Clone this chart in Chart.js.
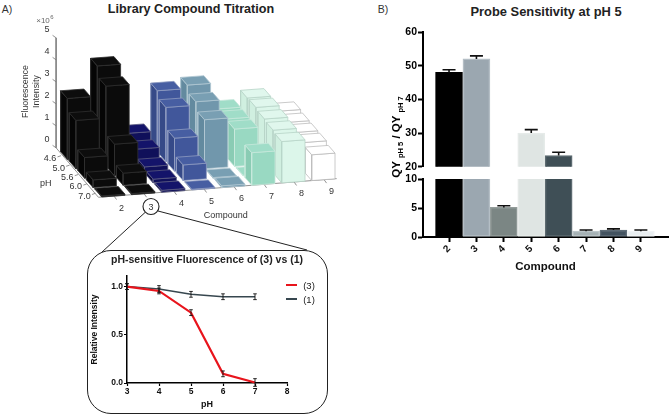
<!DOCTYPE html>
<html lang="en">
<head>
<meta charset="UTF-8" />
<title>Library Compound Titration</title>
<script src="https://cdn.jsdelivr.net/npm/chart.js@4"></script>
<style>
    * { margin: 0; padding: 0; font-family: "Liberation Sans", Arial, sans-serif; }
    body { width: 672px; height: 415px; background: #fff; position: relative; overflow: hidden; }
    canvas { position: absolute; }
    .txt { position: absolute; white-space: nowrap; transform: translate(-50%, -50%); color: #111; }
    .title { font-weight: bold; color: #222; }
    .panel { font-size: 10.5px; color: #333; }
    #box { position: absolute; left: 87px; top: 250px; width: 239px; height: 162px; border: 1.3px solid #222; border-radius: 24px; }
    #qy { font-weight: bold; font-size: 11.5px; transform: translate(-50%, -50%) rotate(-90deg); color: #000; line-height: 12px; }
    #qy sub { font-size: 7.5px; line-height: 0; }
    .legline { position: absolute; width: 11px; height: 2px; }
    svg { position: absolute; left: 0; top: 0; }
</style>
</head>
<body>
<div class="txt panel" style="left:7px;top:9px">A)</div>
<div class="txt panel" style="left:383px;top:9px">B)</div>
<div class="txt title" style="left:191px;top:9px;font-size:12.6px">Library Compound Titration</div>
<div class="txt title" style="left:546px;top:11px;font-size:12.9px">Probe Sensitivity at pH 5</div>

<canvas id="chartA" style="left:0;top:0"></canvas>

<canvas id="chartBTop" style="left:370px;top:22px"></canvas>
<canvas id="chartBBottom" style="left:370px;top:169px"></canvas>
<div class="txt" id="qy" style="left:396px;top:137px">QY <sub>pH 5</sub> / QY <sub>pH 7</sub></div>

<svg width="672" height="415">
    <circle cx="151" cy="206.5" r="8" fill="none" stroke="#222" stroke-width="1.1" />
    <line x1="145" y1="212.5" x2="102" y2="252" stroke="#222" stroke-width="1" />
    <line x1="158" y1="211" x2="307" y2="250" stroke="#222" stroke-width="1" />
</svg>
<div class="txt" style="left:151px;top:206.5px;font-size:9px;color:#333">3</div>

<div id="box"></div>
<div class="txt" style="left:207px;top:259px;font-weight:bold;font-size:10.5px;color:#222">pH-sensitive Fluorescence of (3) vs (1)</div>
<canvas id="chartC" style="left:90px;top:268px"></canvas>
<div class="legline" style="left:286px;top:284px;background:#e8141c"></div>
<div class="legline" style="left:286px;top:298px;background:#37474f"></div>
<div class="txt" style="left:309px;top:285px;font-size:9.5px;color:#222">(3)</div>
<div class="txt" style="left:309px;top:299px;font-size:9.5px;color:#222">(1)</div>

<script>
    // panel A
    const compounds = ["2", "3", "4", "5", "6", "7", "8", "9"];
    const phLevels = ["4.6", "5.0", "5.6", "6.0", "7.0"];
    const intensityTicks = [0, 1, 2, 3, 4, 5];
    const intensity2 = [2.77, 2.2, 0.94, 0.35, 0.05];
    const intensity3 = [4.14, 3.65, 1.44, 0.55, 0.05];
    const intensity4 = [0.97, 0.68, 0.3, 0.17, 0.09];
    const intensity5 = [2.8, 2.47, 1.5, 0.71, 0.03];
    const intensity6 = [2.95, 2.62, 2.23, 0.03, 0.08];
    const intensity7 = [1.76, 1.73, 1.7, 0.03, 1.48];
    const intensity8 = [2.15, 2.15, 2.05, 1.97, 1.88];
    const intensity9 = [1.44, 1.36, 1.33, 1.3, 1.17];
    const intensities = [intensity2, intensity3, intensity4, intensity5, intensity6, intensity7, intensity8, intensity9];

    // panel B
    const sensitivity = [48, 52, 5.1, 30, 23.3, 1.0, 1.2, 1.0];
    const sensitivityErr = [0.8, 0.9, 0.3, 1.0, 1.0, 0.2, 0.2, 0.2];

    // panel C
    const phValues = [3, 4, 5, 6, 7];
    const relative3 = [1.0, 0.955, 0.73, 0.095, 0.005];
    const relative3Err = [0.03, 0.03, 0.03, 0.03, 0.04];
    const relative1 = [1.0, 0.975, 0.92, 0.895, 0.895];
    const relative1Err = [0.03, 0.035, 0.03, 0.03, 0.03];

    const faceColors = [
        ["#0b0b0b", "#050505", "#0d0d0d", "#2e2e2e"],
        ["#0b0b0b", "#050505", "#0d0d0d", "#2e2e2e"],
        ["#10105a", "#0a0a40", "#14146a", "#5a5a80"],
        ["#41579b", "#364a88", "#475ea2", "#8f9cc0"],
        ["#7197ac", "#638a9f", "#799fb3", "#b0c6d2"],
        ["#99d9c2", "#8accb4", "#a0ddc8", "#c8e8dc"],
        ["#dcf6ea", "#d0efe0", "#e0f7ed", "#b8d4c8"],
        ["#ffffff", "#ffffff", "#ffffff", "#bdbdbd"]
    ];

    // oblique projection, bar width W, bar depth D, compound step and pH step in px
    const project = (c, p, v) => ({
        x: 95 + c * 30 + (p - 4) * 8.6,
        y: 189.3 - c * 2.35 + (p - 4) * 9.4 - v * 22
    });
    const shift = (pt, dx, dy) => ({ x: pt.x + dx, y: pt.y + dy });

    function face(points, fill, edge) {
        return {
            data: points.concat([points[0]]),
            showLine: true,
            pointRadius: 0,
            borderColor: edge,
            borderWidth: 0.8,
            backgroundColor: fill,
            fill: "shape",
            tension: 0
        };
    }

    function axisLine(points, color, width) {
        return { data: points, showLine: true, pointRadius: 0, borderColor: color, borderWidth: width, fill: false };
    }

    const Wx = 23.3, Wy = -1.7, Dx = 6.7, Dy = 7.7;
    const datasetsA = [];

    // axes first so the bars sit on top
    datasetsA.push(axisLine([project(-0.03, -0.42, 5), project(-0.03, -0.42, 0), project(-0.12, 4.82, 0), project(7.82, 4.82, 0)], "#777", 0.8));
    intensityTicks.forEach((t) => {
        const p = project(-0.03, -0.42, t);
        datasetsA.push(axisLine([p, shift(p, -3.5, -2.5)], "#777", 0.8));
    });
    phLevels.forEach((l, i) => {
        const p = project(-0.1, i + 0.4, 0);
        datasetsA.push(axisLine([p, shift(p, -3.5, 1.2)], "#777", 0.8));
    });
    compounds.forEach((l, i) => {
        const p = project(i + 0.4, 4.82, 0);
        datasetsA.push(axisLine([p, shift(p, 2.5, 3.5)], "#777", 0.8));
    });

    // far bars first: high compound to low, low pH to high
    for (let c = compounds.length - 1; c >= 0; c--) {
        const col = faceColors[c];
        for (let p = 0; p < phLevels.length; p++) {
            const v = intensities[c][p];
            const g = project(c, p, 0);
            const t = project(c, p, v);
            const gFrontL = shift(g, Dx, Dy);
            const gFrontR = shift(g, Dx + Wx, Dy + Wy);
            const tBackR = shift(t, Wx, Wy);
            const tFrontL = shift(t, Dx, Dy);
            const tFrontR = shift(t, Dx + Wx, Dy + Wy);
            datasetsA.push(face([g, gFrontL, tFrontL, t], col[1], col[3]));
            datasetsA.push(face([gFrontL, gFrontR, tFrontR, tFrontL], col[0], col[3]));
            datasetsA.push(face([t, tBackR, tFrontR, tFrontL], col[2], col[3]));
        }
    }
    datasetsA.forEach((d, i) => { d.order = datasetsA.length - i; });

    const labelsA = {
        id: "labelsA",
        afterDraw(chart) {
            const ctx = chart.ctx;
            const { x: sx, y: sy } = chart.scales;
            const text = (s, x, y, align) => {
                ctx.textAlign = align || "center";
                ctx.fillText(s, sx.getPixelForValue(x), sy.getPixelForValue(y));
            };
            ctx.save();
            ctx.fillStyle = "#333";
            ctx.textBaseline = "middle";
            ctx.font = "9px 'Liberation Sans'";
            intensityTicks.forEach((t) => {
                const p = project(-0.03, -0.42, t);
                text(String(t), p.x - 6.5, p.y - 8.5, "right");
            });
            phLevels.forEach((l, i) => {
                const p = project(-0.1, i + 0.4, 0);
                text(l, p.x - 11, p.y + 3);
            });
            compounds.forEach((l, i) => {
                if (l === "3") return; // sits in the circle, drawn as page text
                const p = project(i + 0.4, 4.82, 0);
                text(l, p.x + 7.5, p.y + 12);
            });
            text("pH", 45.7, 184);
            text("Compound", 225.7, 216);
            ctx.font = "8px 'Liberation Sans'";
            ctx.fillStyle = "#666";
            text("×10", 43, 20.5);
            ctx.font = "6px 'Liberation Sans'";
            text("6", 52, 17.5);
            ctx.font = "8.8px 'Liberation Sans'";
            ctx.fillStyle = "#333";
            ctx.translate(sx.getPixelForValue(31), sy.getPixelForValue(91.5));
            ctx.rotate(-Math.PI / 2);
            ctx.textAlign = "center";
            ctx.fillText("Fluorescence", 0, -5.5);
            ctx.fillText("Intensity", 0, 5.5);
            ctx.restore();
        }
    };

    const aCanvas = document.getElementById("chartA");
    aCanvas.width = 345; aCanvas.height = 235;
    new Chart(aCanvas, {
        type: "scatter",
        data: { datasets: datasetsA },
        plugins: [labelsA],
        options: {
            responsive: false,
            animation: false,
            layout: { padding: 0 },
            plugins: { legend: { display: false }, tooltip: { enabled: false } },
            scales: {
                x: { type: "linear", display: false, min: 0, max: 345 },
                y: { type: "linear", display: false, min: 0, max: 235, reverse: true }
            }
        }
    });

    // error bars read from dataset.errors, both = caps above and below
    const errorBars = {
        id: "errorBars",
        afterDatasetsDraw(chart) {
            const ctx = chart.ctx;
            const yScale = chart.scales.y;
            chart.data.datasets.forEach((ds, i) => {
                if (!ds.errors) return;
                const meta = chart.getDatasetMeta(i);
                meta.data.forEach((el, j) => {
                    const raw = ds.data[j];
                    const val = raw === null ? null : (typeof raw === "object" ? raw.y : raw);
                    if (val === null || val < yScale.min || val > yScale.max) return;
                    const top = yScale.getPixelForValue(val + ds.errors[j]);
                    const bot = yScale.getPixelForValue(ds.errBoth ? val - ds.errors[j] : val);
                    ctx.save();
                    ctx.strokeStyle = "#111";
                    ctx.lineWidth = ds.errWidth;
                    ctx.beginPath();
                    ctx.moveTo(el.x, top);
                    ctx.lineTo(el.x, bot);
                    ctx.moveTo(el.x - ds.capSize, top);
                    ctx.lineTo(el.x + ds.capSize, top);
                    if (ds.errBoth) {
                        ctx.moveTo(el.x - ds.capSize, bot);
                        ctx.lineTo(el.x + ds.capSize, bot);
                    }
                    ctx.stroke();
                    ctx.restore();
                });
            });
        }
    };

    const barFills = ["#000000", "#9ba7b0", "#7b8684", "#dfe5e3", "#3f4f56", "#a5b1b4", "#435360", "#e9eef0"];
    const barEdges = ["#000000", "#b4bec5", "#939c9a", "#e6ebe9", "#5c6a70", "#bcc6c9", "#5f6d78", "#f0f3f5"];
    const boldTick = { size: 10.5, weight: "bold", family: "'Liberation Sans'" };

    function barData(lo) {
        return sensitivity.map((v, i) => ({ x: i + 1, y: v >= lo ? v : null }));
    }

    function barSet(lo) {
        return [{
            data: barData(lo),
            backgroundColor: barFills,
            borderColor: barEdges,
            borderWidth: 1.5,
            borderSkipped: false,
            barThickness: 27,
            errors: sensitivityErr,
            errBoth: false,
            errWidth: 1.6,
            capSize: 6.5
        }];
    }

    const yTickGrid = { drawOnChartArea: false, drawTicks: true, tickLength: 5, tickWidth: 2, tickColor: "#000" };

    const topCanvas = document.getElementById("chartBTop");
    topCanvas.width = 302; topCanvas.height = 152;
    new Chart(topCanvas, {
        type: "bar",
        data: { datasets: barSet(20) },
        plugins: [errorBars],
        options: {
            responsive: false,
            animation: false,
            layout: { padding: { top: 10, bottom: 7, right: 4 } },
            plugins: { legend: { display: false }, tooltip: { enabled: false } },
            scales: {
                x: { type: "linear", display: false, offset: false, min: 0.05, max: 8.99 },
                y: {
                    min: 20, max: 60,
                    afterFit: (s) => { s.width = 53; },
                    border: { width: 2, color: "#000" },
                    grid: yTickGrid,
                    ticks: { stepSize: 10, color: "#000", font: boldTick, padding: 1 }
                }
            }
        }
    });

    const botCanvas = document.getElementById("chartBBottom");
    botCanvas.width = 302; botCanvas.height = 105;
    new Chart(botCanvas, {
        type: "bar",
        data: { datasets: barSet(0) },
        plugins: [errorBars],
        options: {
            responsive: false,
            animation: false,
            layout: { padding: { top: 10, right: 4 } },
            plugins: { legend: { display: false }, tooltip: { enabled: false } },
            scales: {
                x: {
                    type: "linear", offset: false, min: 0.05, max: 8.99,
                    afterFit: (s) => { s.height = 37; },
                    border: { width: 2, color: "#000" },
                    grid: { offset: false, drawOnChartArea: false, drawTicks: true, tickLength: 5, tickWidth: 2, tickColor: "#000" },
                    title: { display: true, text: "Compound", color: "#111", font: { size: 11.5, weight: "bold", family: "'Liberation Sans'" }, padding: { top: 3, bottom: 0 } },
                    ticks: {
                        stepSize: 1, includeBounds: false, autoSkip: false, minRotation: 45, maxRotation: 45,
                        color: "#111", font: { size: 10, weight: "bold", family: "'Liberation Sans'" }, padding: 1,
                        callback: (v) => compounds[v - 1]
                    }
                },
                y: {
                    min: 0, max: 10,
                    afterFit: (s) => { s.width = 53; },
                    border: { width: 2, color: "#000" },
                    grid: yTickGrid,
                    ticks: { stepSize: 5, color: "#000", font: boldTick, padding: 1 }
                }
            }
        }
    });

    const cCanvas = document.getElementById("chartC");
    cCanvas.width = 205; cCanvas.height = 142;
    const smallBold = { size: 8.5, weight: "bold", family: "'Liberation Sans'" };
    new Chart(cCanvas, {
        type: "scatter",
        data: {
            datasets: [
                {
                    label: "(3)",
                    data: phValues.map((x, i) => ({ x: x, y: relative3[i] })),
                    showLine: true, pointRadius: 0, borderColor: "#e8141c", borderWidth: 2.2,
                    errors: relative3Err, errBoth: true, errWidth: 0.9, capSize: 1.8, clip: false
                },
                {
                    label: "(1)",
                    data: phValues.map((x, i) => ({ x: x, y: relative1[i] })),
                    showLine: true, pointRadius: 0, borderColor: "#37474f", borderWidth: 1.5,
                    errors: relative1Err, errBoth: true, errWidth: 0.9, capSize: 1.8, clip: false
                }
            ]
        },
        plugins: [errorBars],
        options: {
            responsive: false,
            animation: false,
            layout: { padding: { top: 8, right: 8 } },
            plugins: { legend: { display: false }, tooltip: { enabled: false } },
            scales: {
                x: {
                    min: 3, max: 8,
                    afterFit: (s) => { s.height = 27; },
                    border: { width: 1.5, color: "#000" },
                    grid: { drawOnChartArea: false, drawTicks: true, tickLength: 3, tickWidth: 1.2, tickColor: "#000" },
                    title: { display: true, text: "pH", color: "#111", font: { size: 9, weight: "bold", family: "'Liberation Sans'" }, padding: { top: 1, bottom: 0 } },
                    ticks: { stepSize: 1, color: "#111", font: smallBold, padding: 1, maxRotation: 0 }
                },
                y: {
                    min: 0, max: 1.11,
                    afterFit: (s) => { s.width = 37; },
                    border: { width: 1.5, color: "#000" },
                    grid: { drawOnChartArea: false, drawTicks: true, tickLength: 3, tickWidth: 1.2, tickColor: "#000" },
                    title: { display: true, text: "Relative Intensity", color: "#111", font: { size: 8.5, weight: "bold", family: "'Liberation Sans'" }, padding: { top: 0, bottom: 1 } },
                    ticks: {
                        stepSize: 0.5, includeBounds: false, color: "#111", font: smallBold, padding: 1,
                        callback: (v) => v.toFixed(1)
                    }
                }
            }
        }
    });
</script>
</body>
</html>
